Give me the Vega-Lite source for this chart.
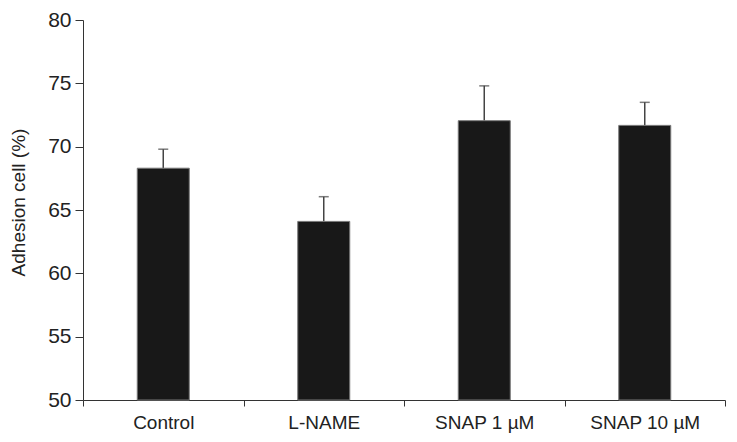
{
  "$schema": "https://vega.github.io/schema/vega-lite/v6.json",
  "width": 642,
  "height": 380,
  "autosize": {"type": "none"},
  "padding": {"left": 83, "top": 20, "right": 12, "bottom": 42},
  "background": "white",
  "config": {
    "view": {"stroke": null},
    "font": "Liberation Sans",
    "axis": {"grid": false, "domainColor": "#333", "tickColor": "#333", "labelColor": "#222", "titleColor": "#222", "labelFont": "Liberation Sans", "titleFont": "Liberation Sans", "titleFontWeight": "normal"}
  },
  "data": {
    "values": [
      {"group": "Control", "mean": 68.3, "upper": 69.8},
      {"group": "L-NAME", "mean": 64.1, "upper": 66.05},
      {"group": "SNAP 1 µM", "mean": 72.05, "upper": 74.8},
      {"group": "SNAP 10 µM", "mean": 71.68, "upper": 73.5}
    ]
  },
  "encoding": {
    "x": {
      "field": "group", "type": "nominal", "sort": null,
      "scale": {"paddingInner": 0, "paddingOuter": 0},
      "axis": {"title": null, "labelAngle": 0, "tickBand": "extent", "tickSize": 6, "labelFontSize": 19, "labelPadding": 7}
    }
  },
  "layer": [
    {
      "mark": {"type": "rule", "color": "#444", "strokeWidth": 1.5},
      "encoding": {
        "y": {"field": "mean", "type": "quantitative"},
        "y2": {"field": "upper"}
      }
    },
    {
      "mark": {"type": "tick", "color": "#444", "size": 10, "thickness": 1.5, "orient": "horizontal"},
      "encoding": {
        "y": {"field": "upper", "type": "quantitative"}
      }
    },
    {
      "mark": {"type": "bar", "color": "#181818", "width": 52, "stroke": "#777", "strokeWidth": 1},
      "encoding": {
        "y": {
          "field": "mean", "type": "quantitative",
          "scale": {"domain": [50, 80], "zero": false, "nice": false},
          "axis": {"title": "Adhesion cell (%)", "values": [50, 55, 60, 65, 70, 75, 80], "tickSize": 8, "labelFontSize": 21, "labelPadding": 4, "titleFontSize": 19, "titleX": -65, "titleY": 182, "titleAlign": "center", "titleBaseline": "middle", "titleAngle": -90}
        },
        "y2": {"datum": 50}
      }
    }
  ]
}
